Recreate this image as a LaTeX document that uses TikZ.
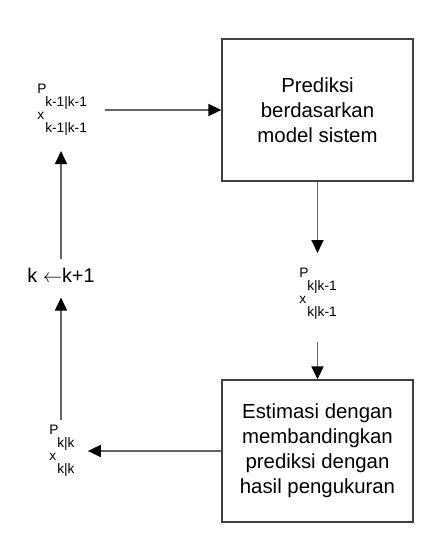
\documentclass[tikz,border=0pt]{standalone}
\usepackage{fontspec}
\setmainfont{Liberation Sans}
\usepackage{tikz}
\usetikzlibrary{arrows.meta, positioning}
\tikzset{
  sbox/.style  = {rectangle, draw=black!75, line width=0.8pt, align=center,
                  font=\fontsize{11.6}{14.2}\selectfont, inner sep=0pt,
                  minimum width=3.82cm, minimum height=2.84cm},
  lbl/.style   = {align=left, inner sep=0pt,
                  font=\fontsize{7.8}{7.4}\selectfont},
  arr/.style   = {-{Triangle[length=0.26cm, width=0.24cm, black]},
                  draw=black!60, line width=1pt},
}
\newcommand{\subind}[1]{\hspace*{4.5pt}#1}

\begin{document}
\begin{tikzpicture}[x=0.02cm, y=-0.02cm]
  \useasboundingbox (0,0) rectangle (435,548);
  % process boxes
  \node[sbox] (pred) at (317.5,110) {Prediksi\\berdasarkan\\model sistem};
  \node[sbox] (est)  at (317.5,451)
    {Estimasi dengan\\membandingkan\\prediksi dengan\\hasil pengukuran};
  % state labels
  \node[lbl, anchor=north west] (lprev) at (37,84)
    {P\\\subind{k-1|k-1}\\x\\\subind{k-1|k-1}};
  \node[lbl, anchor=north west] (lpred) at (299,268)
    {P\\\subind{k|k-1}\\x\\\subind{k|k-1}};
  \node[lbl, anchor=north west] (lest) at (49,425)
    {P\\\subind{k|k}\\x\\\subind{k|k}};
  \node[inner sep=0pt, font=\fontsize{11.3}{13}\selectfont] (kupd) at (61,275)
    {k $\leftarrow$k+1};
  % flow
  \draw[arr, shorten <=0.36cm] (lprev.east) -- (lprev.east -| pred.west);
  \draw[arr, shorten >=0.3cm] (pred.south) -- (pred.south |- lpred.north);
  \draw[arr, shorten <=0.44cm] (est.north |- lpred.south) -- (est.north);
  \draw[arr, shorten >=0.26cm] (est.west) -- (est.west -| lest.east);
  \draw[arr, shorten <=0.1cm, shorten >=0.3cm] (lest.north -| kupd.south)
    -- (kupd.south);
  \draw[arr, shorten <=0.16cm, shorten >=0.3cm] (kupd.north)
    -- (kupd.north |- lprev.south);
\end{tikzpicture}
\end{document}
